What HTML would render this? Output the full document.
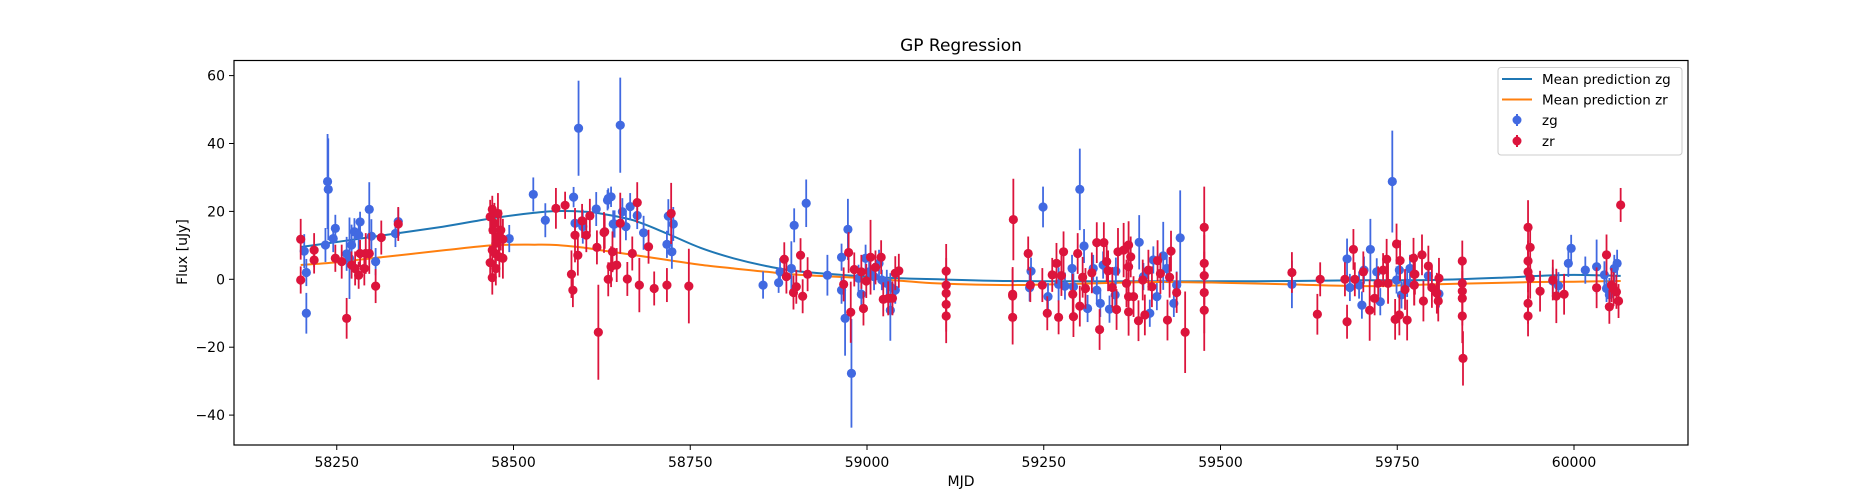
<!DOCTYPE html>
<html><head><meta charset="utf-8"><style>
html,body{margin:0;padding:0;background:#fff;width:1875px;height:500px;overflow:hidden;}
svg{display:block;font-family:"DejaVu Sans","Liberation Sans",sans-serif;}
</style></head><body>
<svg id="chart" width="1875" height="500" xmlns="http://www.w3.org/2000/svg">
<rect x="0" y="0" width="1875" height="500" fill="#fff"/>
<text x="961" y="51" text-anchor="middle" font-size="17" fill="#000">GP Regression</text>
<text x="961" y="486" text-anchor="middle" font-size="14" fill="#000">MJD</text>
<text x="187" y="252" text-anchor="middle" font-size="14" fill="#000" transform="rotate(-90 187 252)">Flux [uJy]</text>
<g id="plot"></g>
<g id="axes"></g>
<g id="legend">
<rect x="1498" y="67.5" width="184" height="87.5" rx="3" fill="#fff" fill-opacity="0.8" stroke="#ccc" stroke-width="1"/>
<line x1="1502" y1="79" x2="1532" y2="79" stroke="#1f77b4" stroke-width="2"/>
<text x="1542" y="84" font-size="13.5">Mean prediction zg</text>
<line x1="1502" y1="99.5" x2="1532" y2="99.5" stroke="#ff7f0e" stroke-width="2"/>
<text x="1542" y="104.5" font-size="13.5">Mean prediction zr</text>
<line x1="1517" y1="114" x2="1517" y2="126" stroke="#4169e1" stroke-width="2"/>
<circle cx="1517" cy="120" r="4.5" fill="#4169e1"/>
<text x="1542" y="125" font-size="13.5">zg</text>
<line x1="1517" y1="135" x2="1517" y2="147" stroke="#dc143c" stroke-width="2"/>
<circle cx="1517" cy="141" r="4.5" fill="#dc143c"/>
<text x="1542" y="146" font-size="13.5">zr</text>
</g>
</svg>
<script>
const xTicks=[58250,58500,58750,59000,59250,59500,59750,60000];
const yTicks=[-40,-20,0,20,40,60];
const zgMjd=[58204,58207,58207,58234,58237,58238,58245,58248,58264,58268,58271,58275,58281,58283,58296,58299,58305,58333,58337,58494,58528,58545,58585,58592,58587,58598,58617,58633,58638,58643,58651,58634,58654,58641,58665,58675,58659,58684,58719,58726,58717,58724,58853,58875,58877,58893,58897,58914,58944,58964,58964,58969,58973,58978,58988,58992,58998,59003,59010,59017,59021,59028,59033,59040,59033,59249,59301,59232,59230,59256,59271,59280,59290,59292,59307,59312,59320,59325,59330,59334,59343,59352,59351,59385,59391,59400,59405,59410,59419,59424,59434,59438,59443,59601,59679,59683,59696,59700,59703,59712,59721,59726,59743,59749,59753,59756,59764,59768,59794,59809,59992,59996,59978,60016,60032,60043,60046,60050,60057,60061,59970];
const zgFlux=[8.3,2,-10,10.1,28.8,26.5,12,15,7.5,6.2,10.1,14,13,16.9,20.6,12.7,5.2,13.5,17,12,25,17.4,24.2,44.5,16.5,15.5,20.7,23.3,24.3,16.3,45.4,23.8,19.9,16.3,21.4,18.8,15.5,13.7,18.6,16.3,10.3,8.1,-1.7,-1,2.2,3.2,15.9,22.4,1.2,6.5,-3.2,-11.5,14.7,-27.7,0.3,-4.4,6.2,2.2,0.8,4.7,-0.2,-1.2,-9.1,-3.2,-2.2,21.3,26.5,2.4,-2.5,-5.1,-1.5,-2,3.2,-2.2,9.8,-8.6,3.2,-3.2,-7.1,4.2,-8.8,2.4,-4.6,10.9,0.8,-10,5.7,-5.1,6.9,3.2,-7.1,-1.7,12.2,-1.5,6,-2.4,-1.7,-7.6,2.7,8.8,2.2,-6.6,28.8,-0.2,2.7,-4.6,-1.2,3.2,1,-4.3,4.7,9.1,-1.9,2.7,3.7,1.3,-2.7,-4.6,3.2,4.7,-0.5];
const zgErr=[5,4,6,5,14,15,4,4,5,12,6,4,5,3,8,5,4,4,4,4,5,5,3,14,4,5,5,3,3,4,14,3,4,4,4,4,4,5,5,5,4,5,4,3,4,8,5,7,6,4,4,11,9,16,4,4,4,3,4,4,3,4,9,4,4,6,12,4,4,4,5,4,4,4,5,4,4,4,4,4,4,4,4,8,4,4,4,4,10,4,4,4,14,7,6,4,4,4,4,9,4,4,15,4,4,4,4,4,4,4,4,4,4,4,8,4,4,5,4,4,4];
const zrMjd=[58199,58199,58218,58218,58248,58257,58264,58271,58276,58281,58283,58289,58291,58296,58305,58313,58337,58467,58470,58471,58470,58467,58470,58473,58474,58475,58478,58479,58480,58482,58485,58485,58475,58560,58573,58582,58584,58587,58591,58597,58603,58608,58618,58620,58629,58634,58638,58640,58628,58646,58651,58668,58675,58678,58661,58691,58699,58717,58723,58748,58883,58886,58900,58896,58906,58909,58916,58967,58974,58977,58982,58992,58995,58999,59005,59012,59020,59023,59030,59036,59040,59045,59112,59112,59112,59112,59112,59207,59206,59206,59206,59228,59231,59248,59255,59262,59271,59268,59278,59275,59291,59292,59298,59301,59305,59309,59318,59325,59329,59335,59339,59341,59347,59353,59355,59363,59367,59370,59370,59370,59370,59373,59377,59384,59390,59393,59398,59403,59411,59415,59425,59428,59430,59438,59450,59477,59477,59477,59477,59477,59601,59641,59637,59676,59679,59688,59690,59702,59711,59718,59723,59730,59735,59737,59747,59749,59753,59754,59761,59764,59773,59774,59774,59785,59794,59775,59774,59787,59799,59806,59809,59808,59842,59842,59842,59842,59842,59843,59935,59938,59935,59935,59938,59935,59935,59952,59970,59975,59986,60032,60046,60050,60053,60056,60060,60063,60066];
const zrFlux=[11.8,-0.2,8.6,5.7,6.2,5.2,-11.5,4.2,3.2,1.2,7.6,3.2,7.6,7.6,-2,12.3,16.3,18.4,20.6,14.5,8.6,4.9,0.5,16.5,7.6,3.2,19.4,12.5,6.6,14.5,11.8,6.2,10.6,20.9,21.8,1.5,-3.2,13,7.1,17.2,13,18.7,9.4,-15.6,14,0,3.7,8.1,13.8,4.2,16.5,7.6,22.6,-1.7,0.1,9.6,-2.7,-1.7,19.4,-2,5.9,0.8,-2.2,-3.9,7.1,-5,1.5,-1.5,7.9,-9.7,2.9,2.2,-8.6,-0.5,6.5,3.5,6.5,-5.9,-5.6,-5.6,1.8,2.5,2.4,-1.7,-4.1,-7.4,-10.8,17.6,-4.4,-4.9,-11.2,7.6,-1.7,-1.7,-10,1.3,-11.2,4.7,8.1,1.1,-4.4,-11,7.6,-7.9,0.6,-2.7,1.9,10.8,-14.8,10.8,5.2,2.5,-2.4,-8.9,8.1,8.6,-1.2,10.1,3.7,-5.1,-9.6,6.6,-5.1,-12.2,-0.2,-10.5,2.7,-2.2,5.5,1.7,-12,0.6,8.3,-3.9,-15.6,15.3,4.7,1.1,-3.9,-9.1,2,0,-10.3,0,-12.5,8.8,0,2.2,-9.1,-5.6,-1.2,2.7,5.9,-1.2,-11.8,10.4,-10.5,5.5,-3,-12,6.2,1.5,-1.7,7.2,3.9,1.5,-1.7,-6.4,-2.4,-4.1,0.3,-6.4,5.4,-1.2,-3.5,-5.6,-10.8,-23.3,15.3,9.4,5.4,2.2,0.3,-7.1,-10.8,-3.5,-0.2,-4.9,-4.4,-2.5,7.2,-8.1,-1.7,-2.9,-3.7,-6.4,21.9];
const zrErr=[6,4,5,4,4,5,6,4,5,4,4,5,6,6,5,5,5,5,4,6,6,5,5,6,6,5,6,6,6,6,6,6,6,6,4,7,5,8,6,5,5,5,5,14,5,5,6,6,6,5,9,5,6,8,5,5,5,5,9,11,5,5,5,5,5,5,5,5,6,9,5,5,5,5,11,5,5,5,5,5,5,5,8,8,8,8,8,12,8,8,8,5,5,5,5,5,5,6,6,6,6,6,6,6,6,6,6,6,6,6,6,6,6,6,7,8,7,7,7,7,7,6,6,6,6,6,6,6,6,6,6,6,6,6,12,12,12,12,12,12,6,5,6,5,5,6,5,6,9,5,5,5,6,6,6,6,6,6,6,6,6,6,6,6,6,6,6,6,6,6,6,6,6,6,8,8,8,8,8,7,6,6,6,6,6,6,6,8,6,6,6,5,5,5,5,5,5,5,11];
const gpMjd=[58199,58250,58300,58400,58470,58530,58560,58600,58622,58669,58717,58764,58811,58858,58905,59000,59047,59100,59200,59300,59400,59500,59600,59700,59800,59900,59950,60000,60066];
const gpZg=[9.5,11,12.5,15.5,18,19.6,20.1,19.9,19.4,17.4,13.5,9.3,6.2,3.9,2.3,0.8,0.3,0,-0.5,-0.6,-0.6,-0.6,-0.5,-0.3,-0.2,0.5,1,1.3,1.0];
const gpZr=[4.2,5,6.2,8.5,10,10.2,10.1,9.3,8.6,7.2,5.7,4.3,3.2,2.2,1.3,0.3,-0.4,-1.2,-1.7,-1.3,-0.8,-1,-1.5,-2,-1.5,-1,-0.8,-0.7,-0.5];

const L=234,R=1688,T=60.5,B=445;
function sx(m){return 867+(m-59000)*0.707;}
function sy(v){return 279.3-v*3.395;}
const NS='http://www.w3.org/2000/svg';
function mk(tag,attrs,parent){const e=document.createElementNS(NS,tag);for(const k in attrs)e.setAttribute(k,attrs[k]);parent.appendChild(e);return e;}
const plot=document.getElementById('plot');
const axes=document.getElementById('axes');

function curve(xs,ys,color,name){
  const P=xs.map((m,i)=>[sx(m),sy(ys[i])]);
  let d='M'+P[0][0].toFixed(1)+' '+P[0][1].toFixed(1);
  for(let i=0;i<P.length-1;i++){
    const p0=P[Math.max(0,i-1)],p1=P[i],p2=P[i+1],p3=P[Math.min(P.length-1,i+2)];
    const c1x=p1[0]+(p2[0]-p0[0])/6,c1y=p1[1]+(p2[1]-p0[1])/6;
    const c2x=p2[0]-(p3[0]-p1[0])/6,c2y=p2[1]-(p3[1]-p1[1])/6;
    d+='C'+c1x.toFixed(1)+' '+c1y.toFixed(1)+' '+c2x.toFixed(1)+' '+c2y.toFixed(1)+' '+p2[0].toFixed(1)+' '+p2[1].toFixed(1);
  }
  const p=mk('path',{d:d,fill:'none',stroke:color,'stroke-width':2,'stroke-linejoin':'round'},plot);
  
  
}
curve(gpMjd,gpZg,'#1f77b4','mean-prediction-zg-line');
curve(gpMjd,gpZr,'#ff7f0e','mean-prediction-zr-line');

function series(ms,fs,es,color,name){
  const g=mk('g',{},plot);
  
  
  for(let i=0;i<ms.length;i++){
    const x=sx(ms[i]);const e=es[i]||5;
    const l=mk('line',{x1:x,x2:x,y1:sy(fs[i]-e),y2:sy(fs[i]+e),stroke:color,'stroke-width':1.8},g);
    
    
  }
  for(let i=0;i<ms.length;i++){
    const c=mk('circle',{cx:sx(ms[i]),cy:sy(fs[i]),r:4.6,fill:color},g);
    
    
  }
}
series(zgMjd,zgFlux,zgErr,'#4169e1','zg');
series(zrMjd,zrFlux,zrErr,'#dc143c','zr');

const frame=mk('rect',{x:L,y:T,width:R-L,height:B-T,fill:'none',stroke:'#000','stroke-width':1.2},axes);


for(const t of xTicks){
  const x=sx(t);
  const l=mk('line',{x1:x,x2:x,y1:B,y2:B+5,stroke:'#000','stroke-width':1},axes);
  
  
  const tx=mk('text',{x:x,y:B+22,'text-anchor':'middle','font-size':14},axes);
  tx.textContent=String(t);
  
  
}
for(const t of yTicks){
  const y=sy(t);
  const l=mk('line',{x1:L-5,x2:L,y1:y,y2:y,stroke:'#000','stroke-width':1},axes);
  
  
  const tx=mk('text',{x:L-9,y:y+5,'text-anchor':'end','font-size':14},axes);
  tx.textContent=(t<0?'\u2212'+(-t):String(t));
  
  
}
</script>
</body></html>
